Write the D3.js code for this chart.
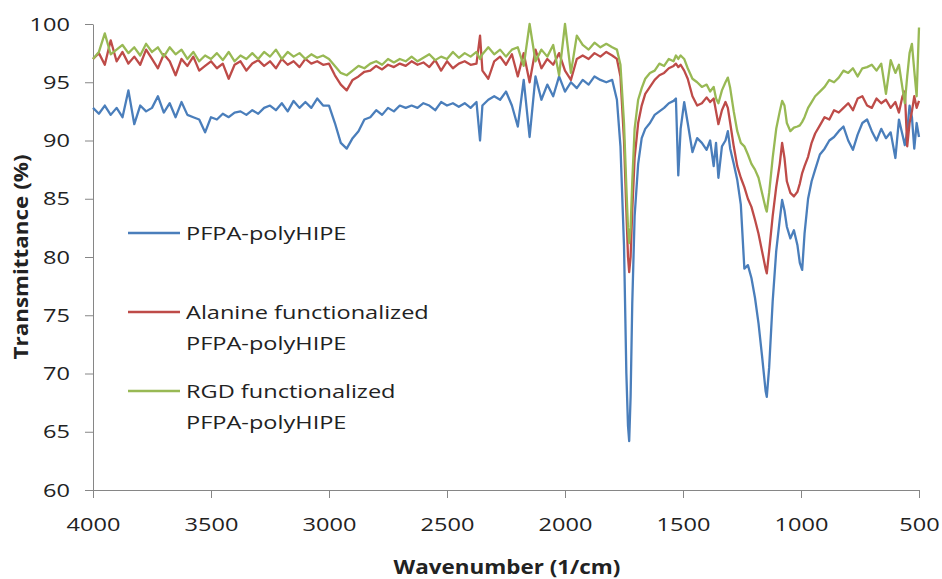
<!DOCTYPE html>
<html>
<head>
<meta charset="utf-8">
<script src="https://cdn.jsdelivr.net/npm/d3@7"></script>
<style>
  body { margin: 0; background: #fff; }
  text { font-family: "Open Sans", "Noto Sans", sans-serif; fill: #222; }
</style>
</head>
<body>
<div id="my_dataviz"></div>
<script>
// wavenumbers (1/cm), shared by the three spectra
var wavenumbers = [
  4000,3975,3950,3925,3900,3875,3850,3825,3800,3775,
  3750,3725,3700,3675,3650,3625,3600,3575,3550,3525,
  3500,3475,3450,3425,3400,3375,3350,3325,3300,3275,
  3250,3225,3200,3175,3150,3125,3100,3075,3050,3025,
  3000,2975,2950,2925,2900,2875,2850,2825,2800,2775,
  2750,2725,2700,2675,2650,2625,2600,2575,2550,2525,
  2500,2475,2450,2425,2400,2375,2360,2350,2325,2300,
  2275,2250,2225,2200,2175,2150,2125,2100,2075,2050,
  2025,2000,1975,1950,1925,1900,1875,1850,1825,1800,
  1780,1765,1750,1740,1733,1728,1722,1715,1705,1690,
  1675,1660,1640,1620,1600,1580,1560,1540,1530,1520,
  1510,1495,1480,1460,1440,1420,1400,1385,1370,1360,
  1350,1335,1320,1310,1300,1285,1270,1255,1240,1225,
  1210,1195,1180,1165,1150,1145,1135,1120,1105,1090,
  1080,1070,1060,1045,1030,1015,1005,995,985,970,
  955,940,920,900,880,860,840,820,800,780,
  760,740,720,700,680,660,640,620,600,585,
  570,560,550,540,530,520,510,500
];

// transmittance (%)
var pfpa = [
  92.8,92.3,93.0,92.2,92.8,92.0,94.3,91.4,93.0,92.5,
  92.8,93.8,92.4,93.2,92.0,93.3,92.2,92.0,91.8,90.7,
  92.0,91.8,92.3,92.0,92.4,92.5,92.2,92.6,92.3,92.8,
  93.0,92.6,93.2,92.5,93.4,92.8,93.3,92.8,93.6,93.0,
  93.0,91.5,89.8,89.3,90.2,90.8,91.8,92.0,92.6,92.2,
  92.8,92.5,93.0,92.8,93.0,92.8,93.2,93.0,92.6,93.3,
  93.0,93.2,92.9,93.2,92.8,93.3,90.0,93.0,93.5,93.8,
  93.5,94.2,93.0,91.2,95.2,90.3,95.5,93.5,94.8,93.8,
  95.5,94.2,95.0,94.5,95.2,94.8,95.5,95.2,95.0,95.2,
  93.5,89.5,81.0,70.0,65.5,64.2,68.0,76.0,83.5,88.0,
  90.2,91.0,91.5,92.2,92.5,92.8,93.2,93.4,93.6,87.0,
  91.0,93.3,91.5,89.0,90.2,89.8,89.2,90.0,87.8,89.8,
  86.8,89.5,90.0,90.8,89.3,88.0,86.6,84.5,79.0,79.3,
  78.2,76.5,74.3,71.5,68.5,68.0,70.5,76.2,80.5,83.2,
  84.9,84.0,82.6,81.6,82.3,81.0,79.5,78.9,82.0,85.0,
  86.5,87.5,88.8,89.3,90.0,90.3,90.8,91.2,90.0,89.2,
  90.5,91.5,91.8,90.8,90.0,91.0,90.2,90.7,88.5,91.8,
  90.5,89.6,90.8,93.0,92.0,89.3,91.5,90.3
];

var alanine = [
  97.0,97.5,96.5,98.6,96.8,97.6,96.6,97.2,96.5,97.8,
  97.0,96.2,97.4,96.8,95.6,97.0,96.4,97.2,96.0,96.4,
  96.8,96.2,96.6,95.3,96.5,96.8,96.0,96.6,96.9,96.4,
  96.8,96.2,97.0,96.5,96.8,96.3,97.0,96.6,96.8,96.5,
  96.6,95.6,94.8,94.3,95.2,95.5,95.9,96.0,96.4,96.1,
  96.5,96.3,96.6,96.4,96.8,96.5,96.7,96.3,96.9,96.0,
  96.8,96.2,96.6,96.8,96.5,96.6,99.0,96.0,95.3,96.8,
  97.2,96.5,97.4,95.5,97.5,95.0,97.8,96.2,97.0,96.5,
  97.5,96.0,95.2,97.0,97.3,97.0,97.5,97.2,97.6,97.3,
  97.0,95.5,90.0,84.0,80.0,78.7,80.0,84.0,88.5,91.5,
  93.0,94.0,94.6,95.2,95.6,95.8,96.2,96.4,96.6,96.3,
  96.5,96.0,95.3,93.8,93.0,93.2,93.7,93.3,93.6,92.5,
  91.4,92.6,93.3,92.8,91.5,89.5,87.8,86.8,86.0,85.0,
  84.3,83.2,82.0,80.5,79.0,78.6,80.5,83.5,86.0,88.0,
  89.8,88.5,86.5,85.5,85.2,85.6,86.3,87.2,87.8,88.6,
  89.8,90.6,91.3,92.0,91.8,92.6,92.4,92.8,93.2,92.6,
  93.6,93.8,93.0,92.8,93.6,93.2,93.5,92.8,93.3,92.4,
  93.8,94.2,89.5,91.5,92.5,93.8,92.8,93.4
];

var rgd = [
  97.0,97.6,99.2,97.4,97.8,98.2,97.5,98.0,97.3,98.3,
  97.6,98.0,97.2,98.0,97.4,97.8,97.0,97.6,96.8,97.3,
  97.0,97.5,96.9,97.6,96.8,97.3,97.0,97.5,97.0,97.6,
  97.2,97.8,97.0,97.6,97.2,97.5,97.0,97.4,97.1,97.3,
  97.0,96.4,95.8,95.6,96.0,96.4,96.2,96.6,96.8,96.5,
  97.0,96.7,97.0,96.8,97.2,96.8,97.1,97.4,96.9,97.2,
  97.0,97.6,97.1,97.5,97.2,97.6,97.0,97.4,98.0,97.4,
  97.8,97.2,97.8,98.0,96.4,100.0,96.8,97.8,97.2,98.2,
  95.6,100.0,95.8,99.0,98.2,97.8,98.4,98.0,98.3,98.0,
  97.8,96.5,91.5,86.0,82.5,81.2,82.5,86.5,91.0,93.5,
  94.5,95.3,95.8,96.0,96.6,96.4,97.0,96.8,97.3,97.0,
  97.3,97.0,96.2,95.3,95.0,94.6,94.8,94.2,94.6,93.6,
  93.2,94.3,95.0,95.4,94.5,92.5,90.8,89.8,89.5,88.8,
  88.0,87.5,86.8,85.5,84.2,83.9,85.5,88.5,91.0,92.5,
  93.4,93.0,91.5,90.8,91.1,91.2,91.3,91.6,92.0,92.8,
  93.3,93.8,94.2,94.6,95.2,95.0,95.4,96.0,95.8,96.2,
  95.5,96.2,96.3,96.5,96.0,96.6,94.0,96.9,95.8,96.5,
  94.5,93.2,95.5,97.5,98.3,96.0,93.8,99.7
];

var legendLines = [["PFPA-polyHIPE"], ["Alanine functionalized", "PFPA-polyHIPE"], ["RGD functionalized", "PFPA-polyHIPE"]];
var xTicks = [4000, 3500, 3000, 2500, 2000, 1500, 1000, 500];
var yTicks = [60, 65, 70, 75, 80, 85, 90, 95, 100];

var colors = ["#4a7ebb", "#be4b48", "#98b954"];
var stretch = 1.24;   // the original text is stretched horizontally

var W = 942, H = 579;
var svg = d3.select("#my_dataviz")
  .append("svg")
    .attr("width", W)
    .attr("height", H);

var x = d3.scaleLinear().domain([4000, 500]).range([93, 919]);
var y = d3.scaleLinear().domain([60, 100]).range([490, 24]);

// x axis
var gx = svg.append("g")
  .attr("transform", "translate(0," + y(60) + ")")
  .call(d3.axisBottom(x).tickValues(xTicks).tickFormat(d3.format("d"))
    .tickSize(8).tickSizeOuter(0).tickPadding(20));
gx.selectAll(".tick text")
  .attr("transform", "scale(" + stretch + ",1)")
  .style("font-size", "19px")
  .style("fill", "#222");

// y axis
var gy = svg.append("g")
  .attr("transform", "translate(" + x(4000) + ",0)")
  .call(d3.axisLeft(y).tickValues(yTicks).tickSize(8).tickSizeOuter(0));
gy.selectAll(".tick text")
  .attr("x", -23 / stretch)
  .attr("transform", "scale(" + stretch + ",1)")
  .style("font-size", "19px")
  .style("fill", "#222");

svg.selectAll(".domain, .tick line").attr("stroke", "#868686");

// spectra
var allSeries = [pfpa, alanine, rgd];
var line = d3.line()
  .x(function(d, i) { return x(wavenumbers[i]); })
  .y(function(d) { return y(d); });

svg.selectAll("path.spectrum")
  .data(allSeries)
  .enter()
  .append("path")
    .attr("class", "spectrum")
    .attr("fill", "none")
    .attr("stroke", function(d, i) { return colors[i]; })
    .attr("stroke-width", 2.3)
    .attr("stroke-linejoin", "round")
    .attr("d", line);

// legend
var legend = svg.append("g");
legendLines.forEach(function(lines, i) {
  var ly = 233 + i * 79;
  legend.append("line")
    .attr("x1", 128).attr("x2", 180)
    .attr("y1", ly).attr("y2", ly)
    .attr("stroke", colors[i])
    .attr("stroke-width", 2.3);
  lines.forEach(function(t, j) {
    legend.append("text")
      .attr("transform", "translate(186," + (ly + 7 + j * 31) + ") scale(" + stretch + ",1)")
      .style("font-size", "19px")
      .text(t);
  });
});

// axis titles
svg.append("text")
  .attr("transform", "translate(507,574) scale(1.18,1)")
  .attr("text-anchor", "middle")
  .style("font-size", "19px")
  .style("font-weight", "bold")
  .text("Wavenumber (1/cm)");

svg.append("text")
  .attr("transform", "translate(28,257) rotate(-90) scale(1.18,1)")
  .attr("text-anchor", "middle")
  .style("font-size", "19px")
  .style("font-weight", "bold")
  .text("Transmittance (%)");
</script>
</body>
</html>
